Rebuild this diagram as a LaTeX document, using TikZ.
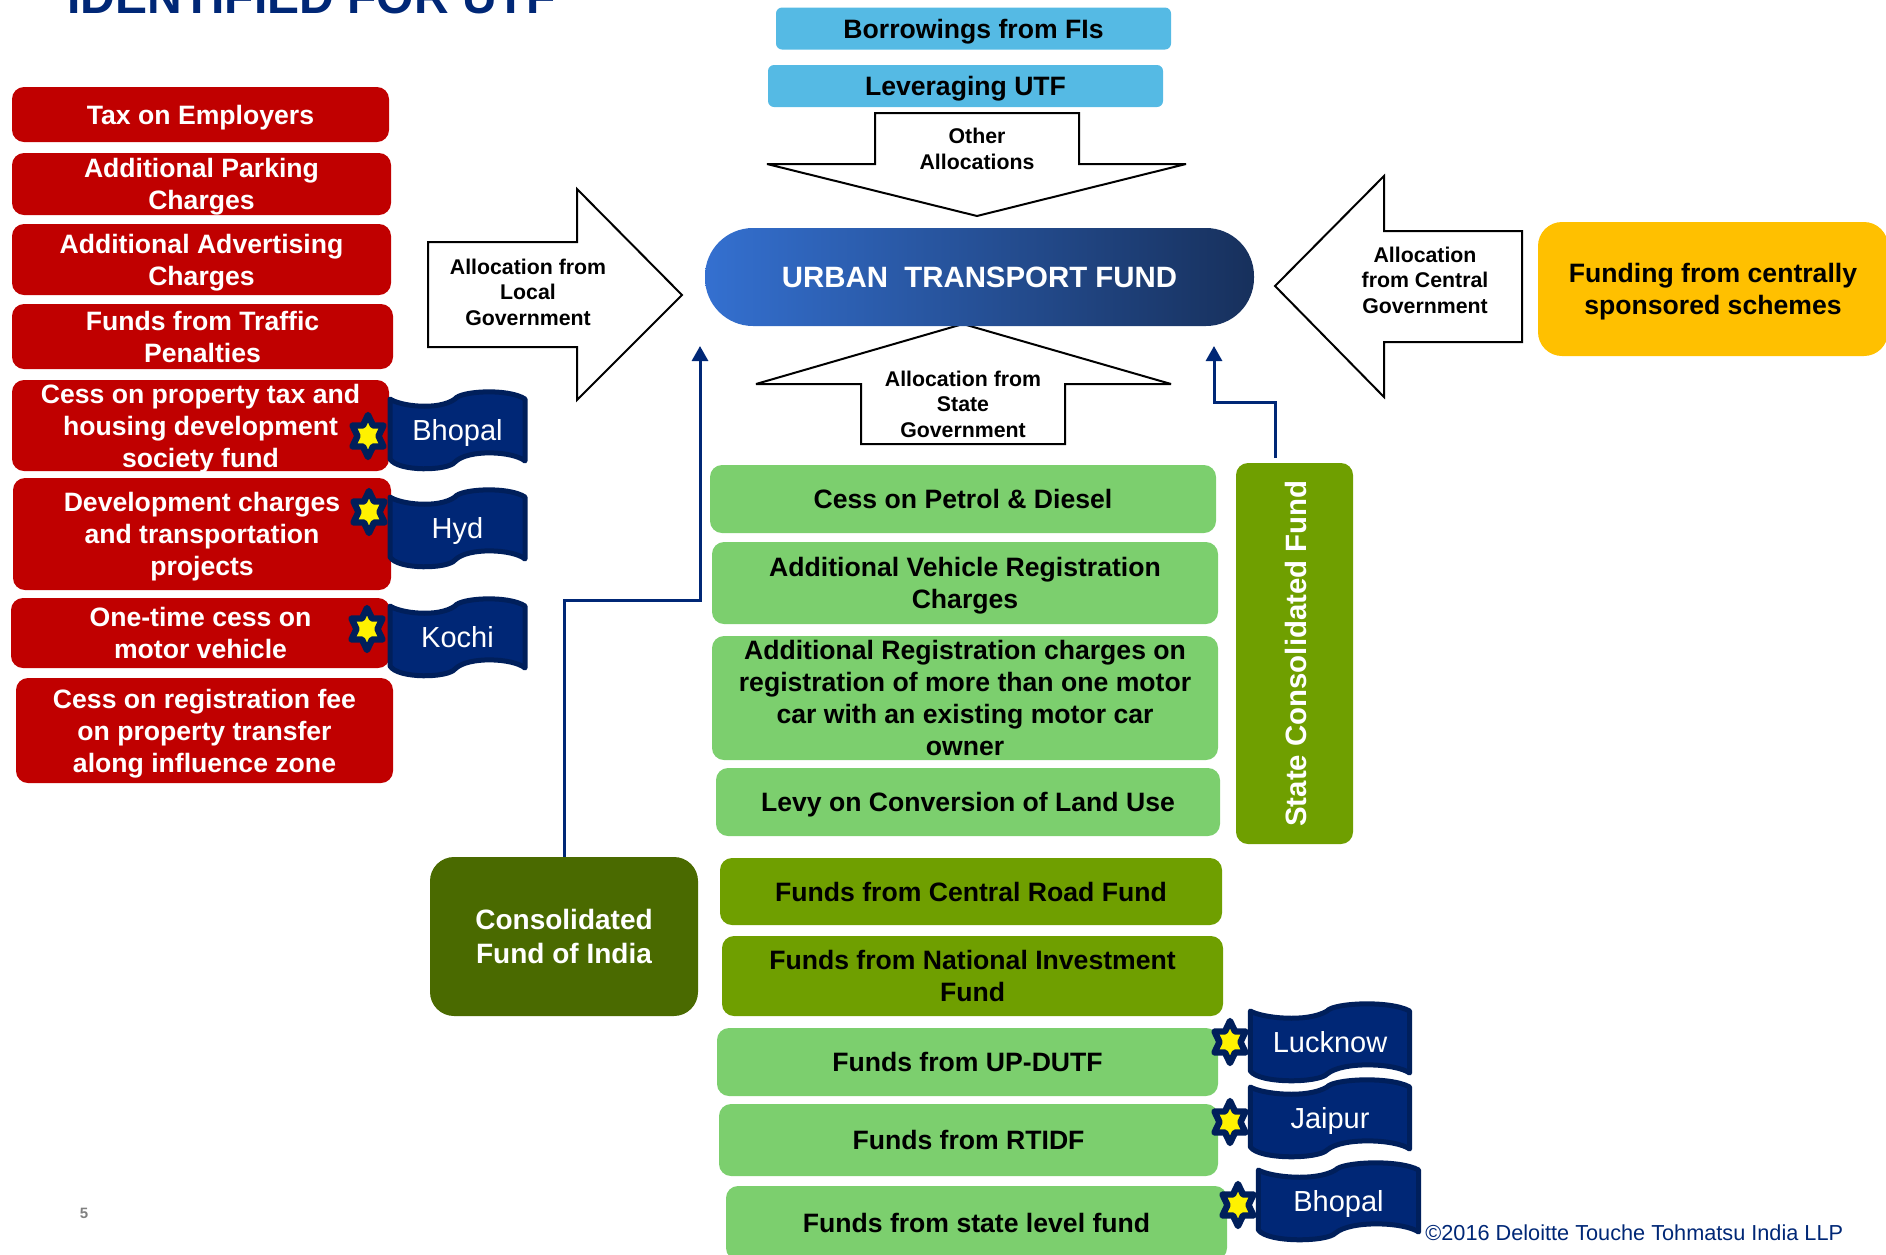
\documentclass[tikz,border=0pt]{standalone}
\usepackage{fontspec}
\setmainfont{Liberation Sans}
\usetikzlibrary{arrows.meta}
\definecolor{utfred}{HTML}{C00000}
\definecolor{utfgreen}{HTML}{7CCF6E}
\definecolor{utfolive}{HTML}{6F9F00}
\definecolor{utfdark}{HTML}{4A6A00}
\definecolor{utfsky}{HTML}{55BAE4}
\definecolor{utfnavy}{HTML}{002776}
\definecolor{utfedge}{HTML}{001F5B}
\definecolor{utfamber}{HTML}{FFC000}
\definecolor{utfblue}{HTML}{3470D0}
\definecolor{utfdeep}{HTML}{17305C}
\tikzset{
  boxsize/.style 2 args={minimum width=#1*0.5pt, minimum height=#2*0.5pt},
  fundbox/.style={rounded corners=6pt, inner sep=0pt, align=center, text depth=-0.6pt, font=\fontsize{13.3}{16}\selectfont\bfseries},
  redbox/.style={fundbox, fill=utfred, text=white},
  greenbox/.style={fundbox, fill=utfgreen},
  olivebox/.style={fundbox, fill=utfolive},
  skybox/.style={fundbox, rounded corners=3pt, fill=utfsky},
  allocarrow/.style={draw=black, line width=1pt, fill=white, line join=miter, miter limit=3},
  alloctext/.style={inner sep=0pt, align=center, font=\fontsize{10.65}{12.8}\selectfont\bfseries},
  flowline/.style={draw=utfnavy, line width=1.5pt, -{Triangle[length=7.5pt,width=8pt]}},
  starmark/.style={draw=utfedge, line width=3.2pt, fill=yellow, line join=round},
  bannerline/.style={draw=utfedge, line width=2.5pt, fill=utfnavy, line join=round}
}
% name, left, top, width, text
\newcommand{\citybanner}[5]{
\begin{scope}[shift={(#2,#3)}, xscale=#4/139]
\draw[bannerline] (2,10) .. controls (12,17) and (50,22) .. (67,10)
  .. controls (72,2) and (120,-1) .. (137,10) -- (137,72)
  .. controls (125,62) and (80,60) .. (67,73)
  .. controls (60,82) and (10,83) .. (2,70) -- cycle;
\node [inner sep=0pt, text=white, text depth=0pt, font=\fontsize{14.5}{16}\selectfont] (#1) at (69.5,41) {#5};
\end{scope}
}
% centre x, centre y
\newcommand{\citystar}[2]{
\draw[starmark] (#1,#2-21) -- ++(5,10.5) -- ++(10.5,0) -- ++(-5,10.5) -- ++(5,10.5) -- ++(-10.5,0)
  -- ++(-5,10.5) -- ++(-5,-10.5) -- ++(-10.5,0) -- ++(5,-10.5) -- ++(-5,-10.5) -- ++(10.5,0) -- cycle;
}

\begin{document}
\begin{tikzpicture}[x=0.5pt, y=-0.5pt]
\useasboundingbox (0,0) rectangle (1886,1254);
\clip (0,0) rectangle (1886,1254);

\node [text=utfnavy, anchor=base west, inner sep=0pt, font=\fontsize{24}{24}\selectfont\bfseries] (title) at (67,13) {IDENTIFIED FOR UTF};

% local sources
\node [redbox, boxsize={377}{55}] (tax) at (200.5,114.5) {Tax on Employers};
\node [redbox, boxsize={379}{62}] (parking) at (201.5,184) {Additional Parking\\Charges};
\node [redbox, boxsize={379}{71}] (advert) at (201.5,259.5) {Additional Advertising\\Charges};
\node [redbox, boxsize={381}{65}] (traffic) at (202.5,336.5) {Funds from Traffic\\Penalties};
\node [redbox, boxsize={377}{91}] (property) at (200.5,425.5) {Cess on property tax and\\housing development\\society fund};
\node [redbox, boxsize={378}{112}] (devcharge) at (202,534) {Development charges\\and transportation\\projects};
\node [redbox, boxsize={379}{70}] (onetime) at (200.5,633) {One-time cess on\\motor vehicle};
\node [redbox, boxsize={377}{105}] (regfee) at (204.5,730.5) {Cess on registration fee\\on property transfer\\along influence zone};

\citystar{368}{436}
\citystar{369}{512}
\citystar{367}{629}
\citybanner{bhopalone}{388}{389}{139}{Bhopal}
\citybanner{hyd}{388}{487}{139}{Hyd}
\citybanner{kochi}{388}{596}{139}{Kochi}

% allocation arrows
\draw[allocarrow] (428,242) -- (577,242) -- (577,189) -- (682,295) -- (577,400) -- (577,347) -- (428,347) -- cycle;
\node [alloctext] (local) at (528,292) {Allocation from\\Local\\Government};
\draw[allocarrow] (875,113) -- (1079,113) -- (1079,164) -- (1186,164) -- (977,216) -- (767,164) -- (875,164) -- cycle;
\node [alloctext] (other) at (977,149) {Other\\Allocations};
\draw[allocarrow] (963,324) -- (1171,384) -- (1065,384) -- (1065,444) -- (861,444) -- (861,384) -- (756,384) -- cycle;
\node [alloctext] (state) at (963,404) {Allocation from\\State\\Government};
\draw[allocarrow] (1275,286) -- (1384,176) -- (1384,231) -- (1522,231) -- (1522,342) -- (1384,342) -- (1384,397) -- cycle;
\node [alloctext] (central) at (1425,280) {Allocation\\from Central\\Government};

% top
\node [skybox, boxsize={395}{42}] (borrow) at (973.5,28.5) {Borrowings from FIs};
\node [skybox, boxsize={395}{42}] (leverage) at (965.5,86) {Leveraging UTF};
\node [rounded corners=24pt, boxsize={549}{98}, inner sep=0pt, left color=utfblue, right color=utfdeep, text=white, font=\fontsize{14.7}{16}\selectfont\bfseries] (utf) at (979.5,277) {URBAN\ \ TRANSPORT FUND};
\node [fundbox, rounded corners=12pt, fill=utfamber, boxsize={350}{134}] (schemes) at (1713,289) {Funding from centrally\\sponsored schemes};

% state sources
\node [greenbox, boxsize={506}{68}] (petrol) at (963,499) {Cess on Petrol \& Diesel};
\node [greenbox, boxsize={506}{82}] (vehreg) at (965,583) {Additional Vehicle Registration\\Charges};
\node [greenbox, boxsize={506}{124}] (addreg) at (965,698) {Additional Registration charges on\\registration of more than one motor\\car with an existing motor car\\owner};
\node [greenbox, boxsize={504}{68}] (levy) at (968,802) {Levy on Conversion of Land Use};
\node [olivebox, boxsize={502}{67}] (roadfund) at (971,891.5) {Funds from Central Road Fund};
\node [olivebox, boxsize={501}{80}] (invest) at (972.5,976) {Funds from National Investment\\Fund};
\node [greenbox, boxsize={501}{68}] (updutf) at (967.5,1062) {Funds from UP-DUTF};
\node [greenbox, boxsize={499}{72}] (rtidf) at (968.5,1140) {Funds from RTIDF};
\node [greenbox, boxsize={501}{74}] (statelevel) at (976.5,1223) {Funds from state level fund};

\citystar{1230}{1042}
\citystar{1230}{1122}
\citystar{1238}{1205}
\citybanner{lucknow}{1248}{1001}{164}{Lucknow}
\citybanner{jaipur}{1248}{1077}{164}{Jaipur}
\citybanner{bhopaltwo}{1256}{1160}{165}{Bhopal}

\node [olivebox, boxsize={117}{381}] (statefund) at (1294.5,653.5) {};
\node [rotate=90, text=white, inner sep=0pt, font=\fontsize{14.7}{16}\selectfont\bfseries] (statefundtext) at (1295.5,653.5) {State Consolidated Fund};
\node [fundbox, rounded corners=12pt, fill=utfdark, text=white, boxsize={268}{159}, font=\fontsize{14}{17}\selectfont\bfseries] (india) at (564,936.5) {Consolidated\\Fund of India};

\coordinate (leftend) at (700,346);
\coordinate (rightend) at (1214,346);
\coordinate (statestart) at (1275,458);
\draw[flowline] (india.north) -- (564,600) -| (leftend);
\draw[flowline] (statestart) -- (1275,402) -| (rightend);

\node [text=gray, inner sep=0pt, font=\fontsize{7.5}{9}\selectfont\bfseries] (pageno) at (84,1213) {5};
\node [text=utfnavy, inner sep=0pt, anchor=base west, font=\fontsize{10.85}{12}\selectfont] (copyright) at (1425,1240) {©2016 Deloitte Touche Tohmatsu India LLP};

\end{tikzpicture}
\end{document}
